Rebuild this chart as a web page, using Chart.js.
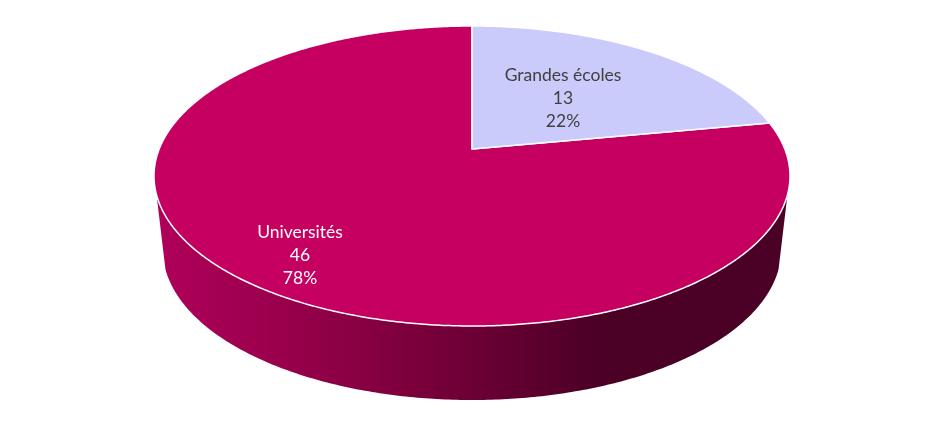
<!DOCTYPE html>
<html>
<head>
<meta charset="utf-8">
<script src="https://cdn.jsdelivr.net/npm/chart.js@4/dist/chart.umd.js"></script>
<style>
  html, body { margin: 0; background: #fff; }
  canvas { display: block; }
</style>
</head>
<body>
<canvas id="myChart" width="945" height="429"></canvas>
<script>
let labels = ['Grandes écoles', 'Universités'];
let values = [13, 46];
let colorHex = ['#CACAFB', '#C60060'];
let labelColors = ['#404040', '#FFFFFF'];
// middle line of each label
let labelSpots = [[563, 98], [300, 255]];

// the pie plane seen in perspective: the apex does not sit at the ellipse centre
const persp = 0.18;
const tilt = 0.464;
// the bottom rim of the wall
const wallDrop = 74;
const wallShrink = 0.972;
const wallFrom = 17.4 * Math.PI / 180;
const wallTo = 162.6 * Math.PI / 180;

function project(arc, angle, r) {
  let u = Math.cos(angle) * r;
  let v = Math.sin(angle) * r;
  let w = 1 - persp * v;
  return {
    x: arc.x + arc.outerRadius * u / w,
    y: arc.y + arc.outerRadius * tilt * v / w
  };
}

function wallGradient(ctx) {
  let g = ctx.createLinearGradient(155, 0, 600, 0);
  g.addColorStop(0, '#B0005A');
  g.addColorStop(0.25, '#9C004E');
  g.addColorStop(0.5, '#840040');
  g.addColorStop(0.75, '#680033');
  g.addColorStop(1, '#4B0026');
  return g;
}

let pie3d = {
  id: 'pie3d',
  // the library's arcs give the angles, we only change how they are projected
  beforeDatasetDraw(chart, args) {
    let ctx = chart.ctx;
    let arcs = chart.getDatasetMeta(args.index).data;

    arcs.forEach((arc) => {
      let lo = Math.max(arc.startAngle, wallFrom);
      let hi = Math.min(arc.endAngle, wallTo);
      if (hi <= lo) return;
      let top = [];
      for (let i = 0; i <= 240; i++) {
        top.push(project(arc, lo + (hi - lo) * i / 240, 1));
      }
      ctx.beginPath();
      top.forEach((p, i) => i ? ctx.lineTo(p.x, p.y) : ctx.moveTo(p.x, p.y));
      top.reverse().forEach((p) => {
        ctx.lineTo(arc.x + (p.x - arc.x) * wallShrink, p.y + wallDrop);
      });
      ctx.closePath();
      ctx.fillStyle = wallGradient(ctx);
      ctx.fill();
    });

    arcs.slice().reverse().forEach((arc) => {
      let span = arc.endAngle - arc.startAngle;
      let steps = Math.ceil(span * 120);
      ctx.beginPath();
      let c = project(arc, 0, 0);
      ctx.moveTo(c.x, c.y);
      for (let i = 0; i <= steps; i++) {
        let p = project(arc, arc.startAngle + span * i / steps, 1);
        ctx.lineTo(p.x, p.y);
      }
      ctx.closePath();
      ctx.fillStyle = arc.options.backgroundColor;
      ctx.fill();
      ctx.lineWidth = arc.options.borderWidth;
      ctx.strokeStyle = arc.options.borderColor;
      ctx.lineJoin = 'round';
      ctx.stroke();
    });
    return false;
  },
  afterDraw(chart) {
    let ctx = chart.ctx;
    let total = values.reduce((a, b) => a + b, 0);
    ctx.font = '17.5px Lato';
    ctx.textAlign = 'center';
    ctx.textBaseline = 'middle';
    labels.forEach((name, i) => {
      let lines = [name, String(values[i]), Math.round(values[i] / total * 100) + '%'];
      ctx.fillStyle = labelColors[i];
      lines.forEach((t, j) => {
        ctx.fillText(t, labelSpots[i][0], labelSpots[i][1] + (j - 1) * 23);
      });
    });
  }
};

let ctx = document.getElementById('myChart').getContext('2d');
let myChart = new Chart(ctx, {
  type: 'pie',
  data: {
    labels: labels,
    datasets: [{
      data: values,
      backgroundColor: colorHex,
      borderColor: '#FFFFFF',
      borderWidth: 1.5,
      clip: false
    }]
  },
  options: {
    responsive: false,
    animation: false,
    radius: 312.8,
    layout: { padding: { right: 1, bottom: 131 } },
    plugins: {
      legend: { display: false },
      tooltip: { enabled: false }
    }
  },
  plugins: [pie3d]
});
</script>
</body>
</html>
